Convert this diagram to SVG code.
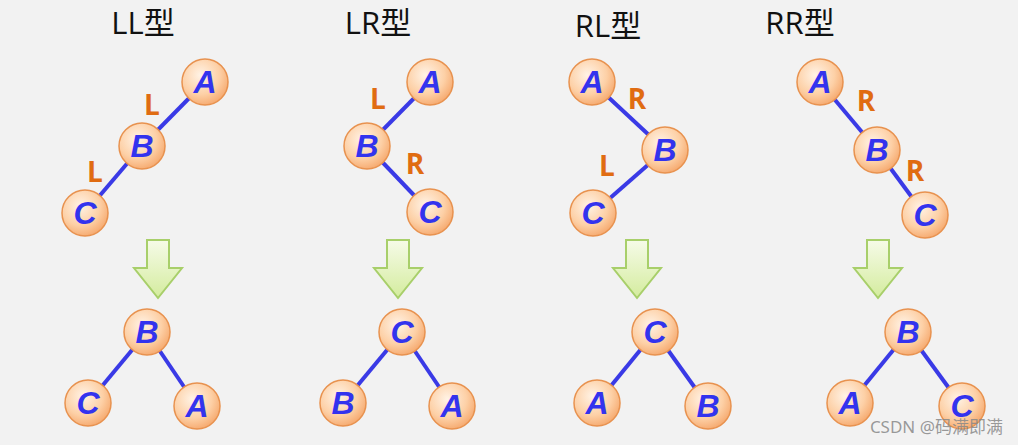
<svg xmlns="http://www.w3.org/2000/svg" width="1018" height="445" viewBox="0 0 1018 445">
<defs>
<radialGradient id="g" cx="0.4" cy="0.35" r="0.7"><stop offset="0" stop-color="#fff3e6"/><stop offset="0.6" stop-color="#fdd0a6"/><stop offset="1" stop-color="#f5a66a"/></radialGradient>
<linearGradient id="ag" x1="0" y1="0" x2="0" y2="1"><stop offset="0" stop-color="#f6fbe8"/><stop offset="1" stop-color="#d4ec9e"/></linearGradient>
<path id="arr" d="M-11,0 H11 V28 H24 L0,58 L-24,28 H-11 Z"/>
</defs>
<style>
.n{fill:url(#g);stroke:#e8924f;stroke-width:1.5}
.t{font-family:"Liberation Sans",Arial,sans-serif;font-style:italic;font-weight:bold;font-size:32px;fill:#3333ee;text-anchor:middle}
.e{stroke:#3a3ae6;stroke-width:4}
.l{font-family:"Open Sans","Liberation Sans",sans-serif;font-weight:bold;font-size:28px;fill:#e06c12;text-anchor:middle}
.h{font-family:"Open Sans","Noto Sans CJK SC",sans-serif;font-size:31px;fill:#111;text-anchor:middle}
.a{fill:url(#ag);stroke:#a8cf6a;stroke-width:2}
</style>
<rect width="1018" height="445" fill="#f2f2f2"/>
<g id="titles">
<text class="h" x="143" y="34">LL型</text>
<text class="h" x="378" y="34">LR型</text>
<text class="h" x="608" y="37">RL型</text>
<text class="h" x="800" y="34">RR型</text>
</g>
<g id="connectors">
<line class="e" x1="205" y1="82" x2="142" y2="146"/><line class="e" x1="142" y1="146" x2="85" y2="213"/>
<line class="e" x1="147" y1="332" x2="88" y2="403"/><line class="e" x1="147" y1="332" x2="197" y2="406"/>
<line class="e" x1="430" y1="82" x2="367" y2="146"/><line class="e" x1="367" y1="146" x2="430" y2="212"/>
<line class="e" x1="402" y1="332" x2="343" y2="403"/><line class="e" x1="402" y1="332" x2="452" y2="406"/>
<line class="e" x1="592" y1="82" x2="665" y2="150"/><line class="e" x1="665" y1="150" x2="593" y2="213"/>
<line class="e" x1="655" y1="332" x2="597" y2="403"/><line class="e" x1="655" y1="332" x2="708" y2="406"/>
<line class="e" x1="820" y1="82" x2="877" y2="150"/><line class="e" x1="877" y1="150" x2="925" y2="215"/>
<line class="e" x1="908" y1="332" x2="850" y2="403"/><line class="e" x1="908" y1="332" x2="962" y2="406"/>
</g>
<g id="labels">
<text class="l" x="152" y="115">L</text><text class="l" x="95" y="182">L</text>
<text class="l" x="378" y="109">L</text><text class="l" x="415" y="174">R</text>
<text class="l" x="637" y="109">R</text><text class="l" x="607" y="176">L</text>
<text class="l" x="866" y="111">R</text><text class="l" x="915" y="181">R</text>
</g>
<g id="arrows">
<use href="#arr" class="a" x="158" y="240"/><use href="#arr" class="a" x="398" y="240"/>
<use href="#arr" class="a" x="637" y="240"/><use href="#arr" class="a" x="878" y="240"/>
</g>
<g id="nodes">
<g id="ll-A"><circle class="n" cx="205" cy="82" r="23"/><text class="t" x="205" y="93">A</text></g>
<g id="ll-B"><circle class="n" cx="142" cy="146" r="23"/><text class="t" x="142" y="157">B</text></g>
<g id="ll-C"><circle class="n" cx="85" cy="213" r="23"/><text class="t" x="85" y="224">C</text></g>
<g id="ll2-B"><circle class="n" cx="147" cy="332" r="23"/><text class="t" x="147" y="343">B</text></g>
<g id="ll2-C"><circle class="n" cx="88" cy="403" r="23"/><text class="t" x="88" y="414">C</text></g>
<g id="ll2-A"><circle class="n" cx="197" cy="406" r="23"/><text class="t" x="197" y="417">A</text></g>
<g id="lr-A"><circle class="n" cx="430" cy="82" r="23"/><text class="t" x="430" y="93">A</text></g>
<g id="lr-B"><circle class="n" cx="367" cy="146" r="23"/><text class="t" x="367" y="157">B</text></g>
<g id="lr-C"><circle class="n" cx="430" cy="212" r="23"/><text class="t" x="430" y="223">C</text></g>
<g id="lr2-C"><circle class="n" cx="402" cy="332" r="23"/><text class="t" x="402" y="343">C</text></g>
<g id="lr2-B"><circle class="n" cx="343" cy="403" r="23"/><text class="t" x="343" y="414">B</text></g>
<g id="lr2-A"><circle class="n" cx="452" cy="406" r="23"/><text class="t" x="452" y="417">A</text></g>
<g id="rl-A"><circle class="n" cx="592" cy="82" r="23"/><text class="t" x="592" y="93">A</text></g>
<g id="rl-B"><circle class="n" cx="665" cy="150" r="23"/><text class="t" x="665" y="161">B</text></g>
<g id="rl-C"><circle class="n" cx="593" cy="213" r="23"/><text class="t" x="593" y="224">C</text></g>
<g id="rl2-C"><circle class="n" cx="655" cy="332" r="23"/><text class="t" x="655" y="343">C</text></g>
<g id="rl2-A"><circle class="n" cx="597" cy="403" r="23"/><text class="t" x="597" y="414">A</text></g>
<g id="rl2-B"><circle class="n" cx="708" cy="406" r="23"/><text class="t" x="708" y="417">B</text></g>
<g id="rr-A"><circle class="n" cx="820" cy="82" r="23"/><text class="t" x="820" y="93">A</text></g>
<g id="rr-B"><circle class="n" cx="877" cy="150" r="23"/><text class="t" x="877" y="161">B</text></g>
<g id="rr-C"><circle class="n" cx="925" cy="215" r="23"/><text class="t" x="925" y="226">C</text></g>
<g id="rr2-B"><circle class="n" cx="908" cy="332" r="23"/><text class="t" x="908" y="343">B</text></g>
<g id="rr2-A"><circle class="n" cx="850" cy="403" r="23"/><text class="t" x="850" y="414">A</text></g>
<g id="rr2-C"><circle class="n" cx="962" cy="406" r="23"/><text class="t" x="962" y="417">C</text></g>
</g>
<text x="1003" y="433" font-family="'Noto Sans','Noto Sans CJK SC',sans-serif" font-size="17" fill="#888" fill-opacity="0.85" text-anchor="end">CSDN @码满即满</text>
</svg>
